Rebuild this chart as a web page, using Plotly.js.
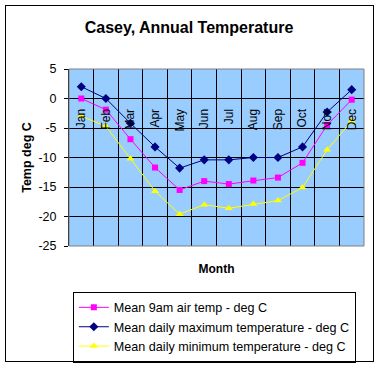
<!DOCTYPE html>
<html>
<head>
<meta charset="utf-8">
<script src="https://cdn.plot.ly/plotly-3.0.1.min.js"></script>
<style>
html,body{margin:0;padding:0;background:#fff;}
#wrap{position:relative;width:380px;height:367px;}
#chart{width:380px;height:367px;}
#frame{position:absolute;left:5px;top:5px;width:367px;height:355px;border:1px solid #000;pointer-events:none;}
</style>
</head>
<body>
<div id="wrap"><div id="chart"></div><div id="frame"></div></div>
<script>
const months = ["Jan","Feb","Mar","Apr","May","Jun","Jul","Aug","Sep","Oct","Nov","Dec"];
const mean9am = [0.0,-1.9,-6.9,-11.7,-15.5,-14.0,-14.5,-13.9,-13.4,-10.9,-4.5,-0.2];
const meanMax = [2.0,0.0,-4.2,-8.2,-11.8,-10.4,-10.4,-10.0,-10.0,-8.2,-2.3,1.5];
const meanMin = [-3.0,-4.7,-10.2,-15.7,-19.6,-18.0,-18.6,-17.9,-17.3,-15.1,-8.7,-3.8];
const yTicks = [5,0,-5,-10,-15,-20,-25];

const font = "Liberation Sans, Arial, sans-serif";
const traces = [
  {x: months, y: mean9am, name: "Mean 9am air temp - deg C", type: "scatter", mode: "lines+markers",
   line: {color: "#FF00FF", width: 1}, marker: {symbol: "square", size: 6, color: "#FF00FF"}},
  {x: months, y: meanMax, name: "Mean daily maximum temperature - deg C", type: "scatter", mode: "lines+markers",
   line: {color: "#000080", width: 1}, marker: {symbol: "diamond", size: 7, color: "#000080"}},
  {x: months, y: meanMin, name: "Mean daily minimum temperature - deg C", type: "scatter", mode: "lines+markers",
   line: {color: "#FFFF00", width: 1}, marker: {symbol: "triangle-up", size: 7, color: "#FFFF00"}},
  {x: months, y: meanMax, xaxis: "x2", type: "scatter", mode: "none", showlegend: false, hoverinfo: "skip"}
];

const layout = {
  width: 380, height: 367,
  margin: {l: 69, r: 16, t: 69, b: 121, autoexpand: false},
  paper_bgcolor: "#ffffff",
  plot_bgcolor: "#99CCFF",
  font: {family: font, size: 12, color: "#000"},
  title: {text: "<b>Casey, Annual Temperature</b>", font: {family: font, size: 16, color: "#000"},
          x: 189/380, xref: "container", xanchor: "center", y: 1 - 27/367, yref: "container", yanchor: "middle"},
  showlegend: true,
  legend: {x: 0.013, y: -0.258, xanchor: "left", yanchor: "top", bgcolor: "#fff",
           bordercolor: "#000", borderwidth: 1, font: {family: font, size: 12.6, color: "#000"},
           itemwidth: 30, tracegroupgap: 0},
  xaxis: {type: "category", categoryarray: months, range: [-0.5, 11.5], tickson: "boundaries",
          showgrid: true, gridcolor: "#000", gridwidth: 1, showticklabels: false, ticks: "",
          zeroline: false, showline: false, fixedrange: true, automargin: false,
          title: {text: "<b>Month</b>", font: {family: font, size: 12, color: "#000"}, standoff: 18}},
  xaxis2: {type: "category", categoryarray: months, overlaying: "x", anchor: "free", position: 25/30,
           range: [-0.5, 11.5], showgrid: false, zeroline: false, showline: false, ticks: "",
           tickangle: -90, ticklabelstandoff: 7, automargin: false,
           tickfont: {family: font, size: 12, color: "#000"}},
  yaxis: {range: [-25, 5], tickvals: yTicks, ticktext: yTicks.map(String), showgrid: true,
          gridcolor: "#000", gridwidth: 1, zeroline: true, zerolinecolor: "#000", zerolinewidth: 1,
          showline: true, linecolor: "#000", linewidth: 1, ticks: "outside", ticklen: 4, tickcolor: "#000",
          ticklabelstandoff: 5, automargin: false, tickfont: {family: font, size: 12.5, color: "#000"},
          title: {text: "<b>Temp deg C</b>", font: {family: font, size: 12.5, color: "#000"}, standoff: 4}},
  shapes: [
    {type: "rect", xref: "paper", yref: "paper", x0: 0, x1: 1, y0: 0, y1: 1,
     line: {color: "#808080", width: 1}, fillcolor: "rgba(0,0,0,0)", layer: "above"}
  ]
};

Plotly.newPlot("chart", traces, layout, {staticPlot: true, displayModeBar: false});
</script>
</body>
</html>
